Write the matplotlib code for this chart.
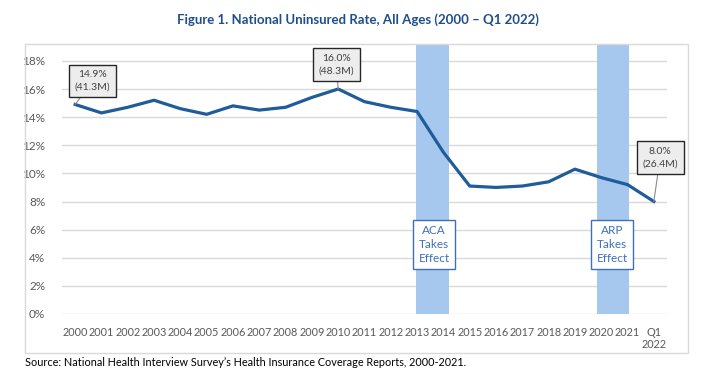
import matplotlib
matplotlib.use("Agg")
import matplotlib.pyplot as plt
from matplotlib.patches import Rectangle

plt.rcParams['font.family'] = ['Lato', 'DejaVu Sans']

# data
years = ['2000', '2001', '2002', '2003', '2004', '2005', '2006', '2007', '2008',
         '2009', '2010', '2011', '2012', '2013', '2014', '2015', '2016', '2017',
         '2018', '2019', '2020', '2021', 'Q1\n2022']
rate = [14.9, 14.3, 14.7, 15.2, 14.6, 14.2, 14.8, 14.5, 14.7,
        15.4, 16.0, 15.1, 14.7, 14.4, 11.5, 9.1, 9.0, 9.1,
        9.4, 10.3, 9.7, 9.2, 8.0]
yticks = [0, 2, 4, 6, 8, 10, 12, 14, 16, 18]
callouts = [(0, '14.9%\n(41.3M)'), (10, '16.0%\n(48.3M)'), (22, '8.0%\n(26.4M)')]
callout_pos = [(0.67, 16.57), (9.92, 17.75), (22.24, 11.13)]
policies = ['ACA\nTakes\nEffect', 'ARP\nTakes\nEffect']
policy_span = [(12.97, 14.22), (19.85, 21.06)]
policy_x = [13.65, 20.42]

line_col = '#1F5C99'
band_col = '#A6C8EE'
tick_col = '#595959'

fig = plt.figure(figsize=(7.16, 3.73), dpi=100)

# chart frame
fig.patches.append(Rectangle((25/716, 1-353/373), (688-25)/716, (353-44)/373,
                             transform=fig.transFigure, fill=False,
                             edgecolor='#D9D9D9', lw=1))

ax = fig.add_axes([62/716, 1-314/373, (667-62)/716, (314-44)/373])
x = list(range(len(years)))

for (a, b) in policy_span:
    ax.axvspan(a, b, color=band_col, lw=0, zorder=1)

for t in yticks:
    ax.axhline(t, color='#D9D9D9', lw=1, zorder=0.5)

ax.plot(x, rate, color=line_col, lw=2.3, zorder=3)

ax.set_xlim(-0.5, 22.5)
ax.set_ylim(0, 19.2)
ax.set_yticks(yticks)
ax.set_yticklabels([f'{t}%' for t in yticks])
ax.set_xticks(x)
ax.set_xticklabels(years)
ax.tick_params(axis='both', length=0, colors=tick_col, labelsize=7.8)
ax.tick_params(axis='y', pad=12, labelsize=8.5)
ax.tick_params(axis='x', pad=9)
for lab in ax.get_xticklabels():
    lab.set_verticalalignment('top')
for s in ax.spines.values():
    s.set_visible(False)

for (i, txt), (tx, ty) in zip(callouts, callout_pos):
    ax.annotate(txt, xy=(i, rate[i]), xytext=(tx, ty), ha='center', va='center',
                fontsize=7.5, color='#404040', linespacing=1.5,
                bbox=dict(boxstyle='square,pad=0.55', fc='#EDEDED', ec='#262626', lw=1),
                arrowprops=dict(arrowstyle='-', color='#8C8C8C', lw=0.8,
                                shrinkA=0, shrinkB=0),
                annotation_clip=False, zorder=5)

for txt, px in zip(policies, policy_x):
    ax.text(px, 4.94, txt, ha='center', va='center', fontsize=8.5,
            color='#3F6FB8', linespacing=1.35, zorder=5,
            bbox=dict(boxstyle='square,pad=0.45', fc='white', ec='#3F6FB8', lw=1))

fig.text(358/716, 1-20/373, 'Figure 1. National Uninsured Rate, All Ages (2000 \u2013 Q1 2022)',
         ha='center', va='center', fontsize=9.5, fontweight='bold', color='#1F4E8C')
fig.text(25/716, 1-363/373,
         'Source: National Health Interview Survey\u2019s Health Insurance Coverage Reports, 2000-2021.',
         ha='left', va='center', fontsize=7.8, color='black')

fig.savefig('out.png', dpi=100)
